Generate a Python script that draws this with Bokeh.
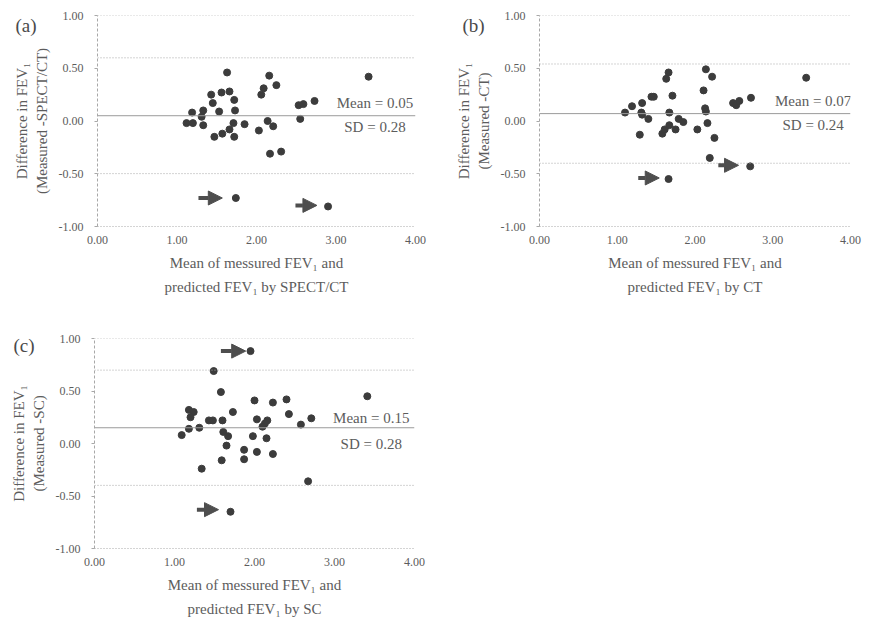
from bokeh.plotting import figure
from bokeh.layouts import column, row
from bokeh.models import (ColumnDataSource, Span, Arrow, NormalHead, Label,
                          FixedTicker, NumeralTickFormatter, Range1d)
from bokeh.embed import file_html
from bokeh.resources import INLINE

# ---------------- data ----------------
panel_tags = ["(a)", "(b)", "(c)"]
methods = ["SPECT/CT", "CT", "SC"]
x_labels = ["Mean of messured FEV\u2081 and\npredicted FEV\u2081 by SPECT/CT",
            "Mean of messured FEV\u2081 and\npredicted FEV\u2081 by CT",
            "Mean of messured FEV\u2081 and\npredicted FEV\u2081 by SC"]
y_labels = ["Difference in FEV\u2081\n(Measured -SPECT/CT)",
            "Difference in FEV\u2081\n(Measured -CT)",
            "Difference in FEV\u2081\n(Measured -SC)"]

mean_vals = [0.05, 0.07, 0.15]
sd_vals = [0.28, 0.24, 0.28]

x_ticks = [0, 1, 2, 3, 4]
y_ticks = [-1.0, -0.5, 0.0, 0.5, 1.0]

a_x = [1.63, 2.16, 2.25, 2.09, 2.06, 1.43, 1.56, 1.66, 1.72, 1.45, 1.73, 1.53,
       1.19, 1.33, 1.31, 1.12, 1.20, 1.33, 1.71, 1.66, 1.85, 1.47, 1.57, 1.72,
       2.03, 2.14, 2.21, 2.17, 2.31, 2.53, 2.59, 2.73, 2.55, 1.74, 2.90, 3.41]
a_y = [0.46, 0.43, 0.34, 0.31, 0.25, 0.25, 0.27, 0.28, 0.20, 0.17, 0.10, 0.09,
       0.08, 0.10, 0.04, -0.02, -0.02, -0.04, -0.02, -0.08, -0.03, -0.15, -0.12, -0.15,
       -0.09, 0.00, -0.05, -0.31, -0.29, 0.15, 0.16, 0.19, 0.02, -0.73, -0.81, 0.42]

b_x = [1.66, 1.63, 2.14, 2.22, 2.11, 1.44, 1.47, 1.71, 1.32, 1.19, 1.10, 1.31,
       1.32, 1.40, 1.67, 1.29, 1.58, 1.61, 1.67, 1.75, 1.79, 1.85, 2.03, 2.13,
       2.14, 2.16, 2.25, 2.49, 2.53, 2.57, 2.72, 2.19, 2.71, 1.66, 3.43]
b_y = [0.46, 0.40, 0.49, 0.42, 0.29, 0.23, 0.23, 0.24, 0.17, 0.14, 0.08, 0.08,
       0.06, 0.02, 0.08, -0.13, -0.12, -0.08, -0.04, -0.08, 0.02, -0.01, -0.08, 0.12,
       0.09, -0.02, -0.16, 0.17, 0.15, 0.19, 0.22, -0.35, -0.43, -0.55, 0.41]

c_x = [1.95, 1.49, 1.58, 2.00, 2.23, 2.40, 1.18, 1.24, 1.20, 1.73, 1.43, 1.48,
       1.60, 2.03, 2.16, 2.13, 2.10, 2.43, 2.71, 2.58, 1.18, 1.31, 1.09, 1.61,
       1.67, 1.98, 2.15, 1.65, 1.87, 2.03, 2.23, 1.59, 1.87, 1.34, 2.67, 1.70, 3.41]
c_y = [0.88, 0.69, 0.49, 0.41, 0.39, 0.42, 0.32, 0.30, 0.25, 0.30, 0.22, 0.22,
       0.22, 0.23, 0.22, 0.19, 0.16, 0.28, 0.24, 0.18, 0.14, 0.15, 0.08, 0.11,
       0.07, 0.07, 0.05, -0.02, -0.06, -0.08, -0.10, -0.16, -0.15, -0.24, -0.36, -0.65, 0.45]

# arrows marking outlying cases
a_arrow_x0 = [1.27, 2.49]
a_arrow_x1 = [1.57, 2.76]
a_arrow_y = [-0.73, -0.80]
b_arrow_x0 = [1.27, 2.30]
b_arrow_x1 = [1.54, 2.56]
b_arrow_y = [-0.54, -0.42]
c_arrow_x0 = [1.58, 1.28]
c_arrow_x1 = [1.89, 1.55]
c_arrow_y = [0.88, -0.63]

# ---------------- style ----------------
FONT = "Liberation Serif"
TEXT = "#5c5c5c"
DOT = "#3c3c3c"
ARROW = "#4e4e4e"
LINE = "#a8a8a8"


def make_panel(i, xs, ys, ax0, ax1, ay, width, height, borders, tag_pos, stat_pos):
    left, right, top, bottom = borders
    p = figure(width=width, height=height, output_backend="svg",
               toolbar_location=None, x_range=Range1d(0, 4), y_range=Range1d(-1, 1),
               min_border_left=left, min_border_right=right,
               min_border_top=top, min_border_bottom=bottom)
    p.outline_line_color = None
    p.xgrid.grid_line_color = None
    p.ygrid.grid_line_color = None
    p.background_fill_color = "white"
    p.border_fill_color = "white"

    # axes
    p.xaxis.ticker = FixedTicker(ticks=x_ticks)
    p.yaxis.ticker = FixedTicker(ticks=y_ticks)
    p.xaxis.formatter = NumeralTickFormatter(format="0.00")
    p.yaxis.formatter = NumeralTickFormatter(format="0.00")
    for ax in (p.xaxis, p.yaxis):
        ax.major_label_text_font = FONT
        ax.major_label_text_font_size = "12px"
        ax.major_label_text_color = TEXT
        ax.axis_label_text_font = FONT
        ax.axis_label_text_font_size = "15px"
        ax.axis_label_text_font_style = "normal"
        ax.axis_label_text_color = TEXT
        ax.minor_tick_line_color = None
        ax.axis_line_color = LINE
    p.xaxis.axis_line_dash = "1 2"
    p.xaxis.major_tick_line_color = None
    p.xaxis.major_tick_in = 0
    p.xaxis.major_tick_out = 0
    p.xaxis.major_label_standoff = 9
    p.xaxis.axis_label_standoff = 8
    p.xaxis.axis_label_text_line_height = 1.5
    p.yaxis.axis_line_dash = "3 2"
    p.yaxis.major_tick_line_color = LINE
    p.yaxis.major_tick_in = 0
    p.yaxis.major_tick_out = 3
    p.yaxis.major_label_standoff = 11
    p.yaxis.axis_label_standoff = 6
    p.yaxis.axis_label_text_line_height = 1.2
    p.xaxis.axis_label = x_labels[i]
    p.yaxis.axis_label = y_labels[i]

    # reference lines: top border, mean, limits of agreement
    m, s = mean_vals[i], sd_vals[i]
    p.add_layout(Span(location=1.0, dimension="width", line_color=LINE,
                      line_dash="1 2", line_width=1))
    p.add_layout(Span(location=m, dimension="width", line_color="#9a9a9a", line_width=1))
    for loa in (m + 1.96 * s, m - 1.96 * s):
        p.add_layout(Span(location=loa, dimension="width", line_color=LINE,
                          line_dash="1 2", line_width=1))

    # points
    p.scatter(xs, ys, size=7, color=DOT, line_color=DOT)

    # arrows
    src = ColumnDataSource(dict(x0=ax0, x1=ax1, y=ay))
    p.add_layout(Arrow(end=NormalHead(size=14, fill_color=ARROW, line_color=ARROW),
                       x_start="x0", y_start="y", x_end="x1", y_end="y",
                       line_color=ARROW, line_width=4, source=src))

    # statistics text
    sx, sy_mean, sy_sd = stat_pos
    p.text(x=[sx, sx], y=[sy_mean, sy_sd],
           text=[f"Mean = {m:.2f}", f"SD = {s:.2f}"],
           text_font={"value": FONT}, text_font_size="15px", text_color=TEXT,
           text_align="center", text_baseline="middle")

    # panel tag, placed in the (empty) right side panel so it is not clipped,
    # positioned in canvas pixels at the top-left corner
    tx, ty = tag_pos
    p.add_layout(Label(x=tx, y=ty, x_units="canvas", y_units="canvas",
                       text=panel_tags[i], text_font=FONT,
                       text_font_size="19px", text_color="#4a4a4a",
                       text_align="left", text_baseline="middle"), "right")
    return p


pa = make_panel(0, a_x, a_y, a_arrow_x0, a_arrow_x1, a_arrow_y,
                440, 305, (97, 25, 14, 79), (15, 25), (3.49, 0.17, -0.06))
pb = make_panel(1, b_x, b_y, b_arrow_x0, b_arrow_x1, b_arrow_y,
                432, 305, (99, 16, 15, 77), (22, 25), (3.52, 0.19, -0.04))
pc = make_panel(2, c_x, c_y, c_arrow_x0, c_arrow_x1, c_arrow_y,
                440, 317, (94, 26, 33, 74), (13, 40), (3.46, 0.24, 0.00))

layout = column(row(pa, pb), pc)

with open("out.html", "w") as f:
    f.write(file_html(layout, INLINE))
